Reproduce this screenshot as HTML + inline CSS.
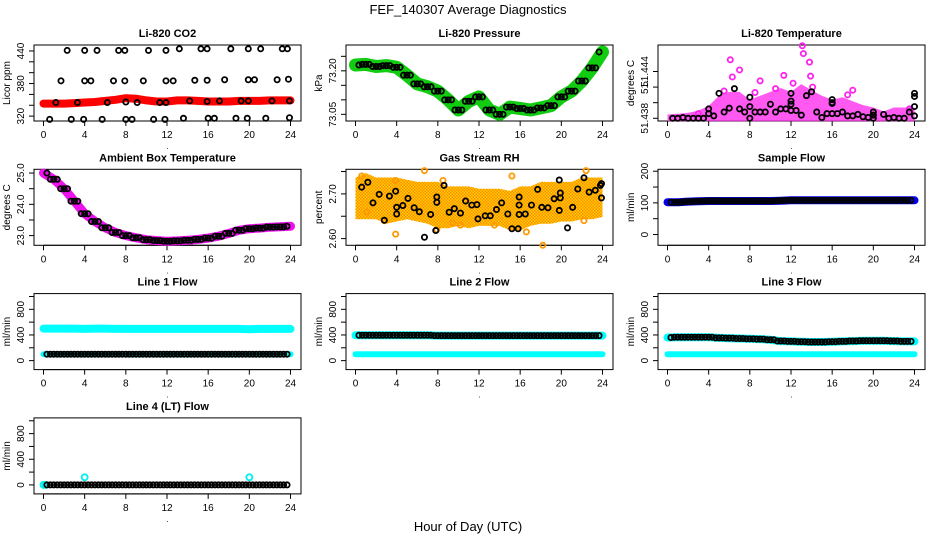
<!DOCTYPE html>
<html><head><meta charset="utf-8"><style>
body{margin:0;background:#fff;}
svg{display:block;font-family:"Liberation Sans",Arial,sans-serif;}
</style></head><body>
<svg id="chart" width="936" height="540" viewBox="0 0 936 540" xmlns="http://www.w3.org/2000/svg">
<defs>
<pattern id="rhpat" width="3" height="3" patternUnits="userSpaceOnUse">
<rect width="3" height="3" fill="#ffd000"/><rect width="1.5" height="1.5" fill="#ff8c00"/><rect x="1.5" y="1.5" width="1.5" height="1.5" fill="#ff8c00"/>
</pattern>
</defs>
<text x="468" y="14" text-anchor="middle" font-size="13">FEF_140307  Average Diagnostics</text>
<text x="468" y="531" text-anchor="middle" font-size="13">Hour of Day (UTC)</text>
</svg>
<script>
const hours = [0,1,2,3,4,5,6,7,8,9,10,11,12,13,14,15,16,17,18,19,20,21,22,23,24];
const xTicks = [0,4,8,12,16,20,24];
// CO2
const co2Band = [343,343,343,344,345,346,348,350,353,352,349,347,347,349,349,348,347,347,347,348,348,348,349,349,349];
const co2Pts = [[2.3,441],[4.0,441],[5.2,441],[7.3,441],[7.9,441],[10.2,441],[11.9,441],[13.2,444],[15.3,444],[15.9,444],[18.2,444],[19.9,444],[21.1,444],[23.2,444],[23.7,444],
[1.7,385],[4.0,385],[4.6,385],[6.8,385],[7.9,385],[9.7,385],[11.9,385],[12.6,385],[14.7,386],[15.9,386],[17.6,387],[19.9,387],[20.5,387],[22.7,387],[23.8,388],
[1.2,345],[3.3,345],[6.2,345],[8.0,346],[9.1,345],[11.3,345],[11.9,345],[14.2,348],[15.9,347],[17.1,348],[19.2,348],[19.9,348],[22.2,348],[23.9,348],
[0.6,314],[2.7,314],[3.9,314],[5.7,314],[8.0,314],[8.6,314],[10.7,314],[11.8,314],[13.6,316],[16.0,316],[16.6,316],[18.7,316],[19.8,316],[21.6,316],[23.9,317]];
// Pressure
const presBand = [73.220,73.222,73.215,73.218,73.212,73.185,73.155,73.145,73.130,73.100,73.065,73.095,73.110,73.065,73.050,73.075,73.070,73.065,73.072,73.080,73.110,73.130,73.165,73.210,73.265];
// Temperature
const tempHigh = [51.4381,51.4382,51.4383,51.4386,51.4392,51.4405,51.4410,51.4410,51.4400,51.4405,51.4410,51.4415,51.4410,51.4420,51.4412,51.4405,51.4400,51.4403,51.4398,51.4393,51.4390,51.4385,51.4390,51.4390,51.4390];
const tempLow = [51.4380,51.4380,51.4380,51.4380,51.4380,51.4380,51.4380,51.4380,51.4380,51.4380,51.4380,51.4380,51.4380,51.4380,51.4380,51.4380,51.4380,51.4380,51.4380,51.4380,51.4380,51.4380,51.4380,51.4380,51.4380];
const tempOut = [[6.1,51.4455],[6.3,51.4433],[7.0,51.4442],[9.0,51.4428],[10.5,51.4418],[11.3,51.4435],[12.2,51.4425],[13.1,51.4473],[13.2,51.4463],[13.8,51.4452],[13.9,51.4434],[14.1,51.4420],[3.0,51.4386],[18.0,51.4416],[17.5,51.4410],[23.5,51.4392],[5.5,51.4415],[8.5,51.4413]];
const tempPts = [[0.5,51.438],[1,51.438],[1.5,51.4381],[2,51.438],[2.5,51.438],[3,51.438],[3.5,51.438],[4,51.4386],[4,51.4392],[4.5,51.4383],[5,51.4412],[5.5,51.4388],[6,51.4393],[6.5,51.4418],[7,51.4392],[7.5,51.4388],[8,51.4407],[8,51.4395],[8,51.438],[8.5,51.4388],[9,51.4388],[9.5,51.4388],[10,51.4398],[10.5,51.4388],[11,51.4392],[11.5,51.4392],[12,51.4402],[12,51.4412],[12,51.4398],[12,51.439],[12.5,51.439],[13,51.4384],[13.5,51.4409],[14,51.4414],[14.5,51.4388],[15,51.4381],[15.5,51.4386],[16,51.4404],[16,51.440],[16,51.4399],[16,51.4386],[16.5,51.4386],[17,51.4388],[17.5,51.4383],[18,51.4383],[18.5,51.4385],[19,51.4382],[19.5,51.4381],[20,51.4388],[20,51.4384],[20,51.438],[21,51.4385],[21.5,51.438],[22,51.4381],[22.5,51.438],[23,51.438],[23.5,51.4388],[24,51.4412],[24,51.4408],[24,51.4395],[24,51.4383]];
// Ambient
const ambBand = [25.0,24.8,24.5,24.1,23.7,23.45,23.25,23.1,23.0,22.93,22.87,22.84,22.82,22.83,22.85,22.88,22.92,22.98,23.07,23.17,23.22,23.24,23.27,23.28,23.30];
// RH
const rhLow = [2.65,2.65,2.65,2.64,2.645,2.65,2.645,2.64,2.63,2.63,2.635,2.63,2.635,2.635,2.635,2.625,2.625,2.635,2.64,2.64,2.645,2.645,2.65,2.65,2.655];
const rhHigh = [2.73,2.74,2.73,2.73,2.73,2.725,2.72,2.72,2.72,2.71,2.71,2.71,2.705,2.705,2.705,2.70,2.71,2.71,2.72,2.72,2.72,2.72,2.73,2.73,2.73];
const rhOut = [[0.6,2.74],[6.7,2.752],[3.9,2.73],[8.5,2.73],[2.8,2.64],[3.9,2.61],[7.9,2.62],[10.2,2.63],[15.2,2.74],[18.2,2.585],[22.4,2.752],[22.2,2.64],[13.5,2.63],[16.6,2.615],[1.1,2.66],[9.5,2.635]];
const rhPts = [[0.6,2.715],[1.2,2.726],[1.7,2.68],[2.3,2.699],[2.8,2.641],[3.3,2.695],[3.9,2.706],[4.0,2.67],[4.0,2.655],[4.6,2.674],[5.1,2.69],[5.7,2.669],[6.2,2.66],[6.7,2.603],[7.3,2.654],[7.8,2.618],[7.9,2.681],[7.9,2.693],[8.6,2.719],[9.1,2.659],[9.6,2.667],[10.2,2.657],[10.7,2.684],[11.3,2.675],[11.8,2.676],[11.9,2.644],[12.6,2.651],[13.1,2.651],[13.7,2.665],[14.2,2.68],[14.8,2.655],[15.2,2.622],[15.8,2.622],[15.9,2.654],[15.9,2.675],[15.9,2.693],[16.5,2.655],[17.1,2.675],[17.7,2.71],[18.1,2.67],[18.7,2.669],[19.3,2.689],[19.8,2.663],[19.9,2.691],[19.9,2.702],[19.8,2.731],[20.6,2.624],[21.1,2.67],[21.6,2.711],[22.2,2.736],[22.7,2.704],[23.3,2.708],[23.8,2.719],[23.9,2.723],[23.9,2.691]];
// Sample flow
const sampleFlow = [102,102,104,105,106,106,106,106,106,106,106,107,108,108,108,108,108,108,108,108,108,108,108,108,108];
// Line flows
const line1Upper = [500,500,500,500,495,500,500,495,495,495,495,495,495,495,495,495,495,495,495,495,490,495,495,495,495];
const line1Lower = [100,100,100,100,100,100,100,100,100,100,100,100,100,100,100,100,100,100,100,100,100,100,100,100,100];
const line1Black = [100,100,100,100,100,100,100,100,100,100,100,100,100,100,100,100,100,100,100,100,100,100,100,100,100];
const line2Upper = [395,395,395,395,395,395,395,395,390,390,390,390,390,390,390,390,390,390,390,390,390,390,390,390,390];
const line2Lower = [100,100,100,100,100,100,100,100,100,100,100,100,100,100,100,100,100,100,100,100,100,100,100,100,100];
const line2Black = [395,395,395,395,395,395,395,395,390,390,390,390,390,390,390,390,390,390,390,390,390,390,390,390,390];
const line3Upper = [360,365,365,365,365,355,350,345,340,335,325,305,300,295,290,290,295,300,305,310,310,310,305,300,300];
const line3Lower = [100,100,100,100,100,100,100,100,100,100,100,100,100,100,100,100,100,100,100,100,100,100,100,100,100];
const line3Black = [360,365,365,365,365,355,350,345,340,335,325,305,300,295,290,290,295,300,305,310,310,310,305,300,300];
const line4Black = [0,0,0,0,0,0,0,0,0,0,0,0,0,0,0,0,0,0,0,0,0,0,0,0,0];
const line4Cyan = [[0,0],[0.2,0],[4,120],[20,120]];
const flowTicks = [0,200,400,600,800,1000];
const flowLabels = ["0","","400","","800",""];

const NS = "http://www.w3.org/2000/svg";
const svg = document.getElementById('chart');
function mk(tag, attrs, parent){
  const e = document.createElementNS(NS, tag);
  for (const k in attrs) e.setAttribute(k, attrs[k]);
  (parent||svg).appendChild(e);
  return e;
}
function panel(c, r, title, ylab, ymin, ymax, yt, yl, name){
  const L = 34 + 312*c, T = 45 + 124.3*r, W = 267, H = 76;
  const g = mk('g', {});
  
  
  const sx = h => L + 9.5 + h*247/24;
  const sy = v => T + H - (v - ymin)/(ymax - ymin)*H;
  const t = mk('text', {x: L + W/2, y: T - 8, 'text-anchor':'middle', 'font-size':'11', 'font-weight':'bold'}, g);
  t.textContent = title;
  
  
  const box = mk('rect', {x:L, y:T, width:W, height:H, fill:'none', stroke:'#000', 'stroke-width':1}, g);
  
  
  const xa = mk('g', {}, g);
  
  
  mk('line', {x1:sx(0), x2:sx(24), y1:T+H, y2:T+H, stroke:'#000'}, xa);
  xTicks.forEach(v => {
    mk('line', {x1:sx(v), x2:sx(v), y1:T+H, y2:T+H+5, stroke:'#000'}, xa);
    const tx = mk('text', {x:sx(v), y:T+H+17, 'text-anchor':'middle', 'font-size':'10'}, xa);
    tx.textContent = v;
  });
  const dot = mk('text', {x:L+W/2, y:T+H+28, 'text-anchor':'middle', 'font-size':'8'}, xa);
  dot.textContent = '.';
  const ya = mk('g', {}, g);
  
  
  mk('line', {x1:L, x2:L, y1:sy(yt[0]), y2:sy(yt[yt.length-1]), stroke:'#000'}, ya);
  yt.forEach((v, i) => {
    mk('line', {x1:L-5, x2:L, y1:sy(v), y2:sy(v), stroke:'#000'}, ya);
    if (yl[i]) {
      const ty = mk('text', {x:0, y:0, 'text-anchor':'middle', 'font-size':'10', transform:`translate(${L-10},${sy(v)}) rotate(-90)`}, ya);
      ty.textContent = yl[i];
    }
  });
  const yt2 = mk('text', {x:0, y:0, 'text-anchor':'middle', 'font-size':'10', transform:`translate(${L-24},${T+H/2}) rotate(-90)`}, g);
  yt2.textContent = ylab;
  
  
  return {g, sx, sy};
}
function band(p, arr, color, w, name){
  const d = arr.map((v,i) => (i?'L':'M') + p.sx(hours[i]).toFixed(1) + ',' + p.sy(v).toFixed(1)).join(' ');
  const e = mk('path', {d, fill:'none', stroke:color, 'stroke-width':w, 'stroke-linejoin':'round', 'stroke-linecap':'round'}, p.g);
  
  
}
function area(p, lo, hi, color, name, op){
  let d = hi.map((v,i) => (i?'L':'M') + p.sx(hours[i]).toFixed(1) + ',' + (p.sy(v)-3).toFixed(1)).join(' ');
  for (let i = lo.length-1; i >= 0; i--) d += ' L' + p.sx(hours[i]).toFixed(1) + ',' + (p.sy(lo[i])+3).toFixed(1);
  const e = mk('path', {d: d + ' Z', fill:color, stroke:'none', 'fill-opacity':op||1}, p.g);
  
  
}
function pts(p, list, color, name, r){
  const grp = mk('g', {}, p.g);
  
  
  list.forEach(q => mk('circle', {cx:p.sx(q[0]), cy:p.sy(q[1]), r:r||2.6, fill:'none', stroke:color, 'stroke-width':1.8}, grp));
}
function stepPts(p, arr, color, name){
  const list = [];
  for (let k = 1; k <= 71; k++) { const t = k/3; list.push([t, arr[Math.round(t)]]); }
  pts(p, list, color, name);
}

// Row 1
let p = panel(0,0,'Li-820 CO2','Licor ppm',311,451,[320,340,360,380,400,420,440],['320','','','380','','','440'],'co2');
band(p, co2Band, '#ff0000', 8, 'co2-band');
pts(p, co2Pts, '#000', 'co2-points');

p = panel(1,0,'Li-820 Pressure','kPa',73.027,73.289,[73.05,73.10,73.15,73.20,73.25],['73.05','','','73.20',''],'pressure');
band(p, presBand, '#11cc11', 13, 'pressure-band');
stepPts(p, presBand, '#000', 'pressure-points');

p = panel(2,0,'Li-820 Temperature','degrees C',51.43765,51.4474,[51.438,51.440,51.442,51.444],['51.438','','51.','51.444'],'temperature');
area(p, tempLow, tempHigh, '#ff22ee', 'temperature-band', 0.75);
pts(p, tempOut, '#ff22ee', 'temperature-outliers');
pts(p, tempPts, '#000', 'temperature-points');

// Row 2
p = panel(0,1,'Ambient Box Temperature','degrees C',22.69,25.12,[23.0,23.5,24.0,24.5,25.0],['23.0','','24.0','','25.0'],'ambient');
band(p, ambBand, '#ee11ee', 9, 'ambient-band');
stepPts(p, ambBand, '#000', 'ambient-points');

p = panel(1,1,'Gas Stream RH','percent',2.585,2.755,[2.60,2.65,2.70,2.75],['2.60','','2.70',''],'rh');
area(p, rhLow, rhHigh, 'url(#rhpat)', 'rh-band');
pts(p, rhOut, '#ff9900', 'rh-outliers');
pts(p, rhPts, '#000', 'rh-points');

p = panel(2,1,'Sample Flow','ml/min',-34,206,[0,50,100,150,200],['0','','100','','200'],'sample-flow');
band(p, sampleFlow, '#0000ee', 8, 'sample-flow-band');
stepPts(p, sampleFlow, '#000', 'sample-flow-points');

// Row 3
p = panel(0,2,'Line 1 Flow','ml/min',-140,1045,flowTicks,flowLabels,'line1');
band(p, line1Upper, '#00ffff', 8, 'line1-upper-band');
band(p, line1Lower, '#00ffff', 6, 'line1-lower-band');
stepPts(p, line1Black, '#000', 'line1-points');

p = panel(1,2,'Line 2 Flow','ml/min',-140,1045,flowTicks,flowLabels,'line2');
band(p, line2Upper, '#00ffff', 8, 'line2-upper-band');
band(p, line2Lower, '#00ffff', 6, 'line2-lower-band');
stepPts(p, line2Black, '#000', 'line2-points');

p = panel(2,2,'Line 3 Flow','ml/min',-140,1045,flowTicks,flowLabels,'line3');
band(p, line3Upper, '#00ffff', 8, 'line3-upper-band');
band(p, line3Lower, '#00ffff', 6, 'line3-lower-band');
stepPts(p, line3Black, '#000', 'line3-points');

// Row 4
p = panel(0,3,'Line 4 (LT) Flow','ml/min',-140,1045,flowTicks,flowLabels,'line4');
pts(p, line4Cyan, '#00eeee', 'line4-cyan-points', 3);
stepPts(p, line4Black, '#000', 'line4-points');
</script>
</body></html>
